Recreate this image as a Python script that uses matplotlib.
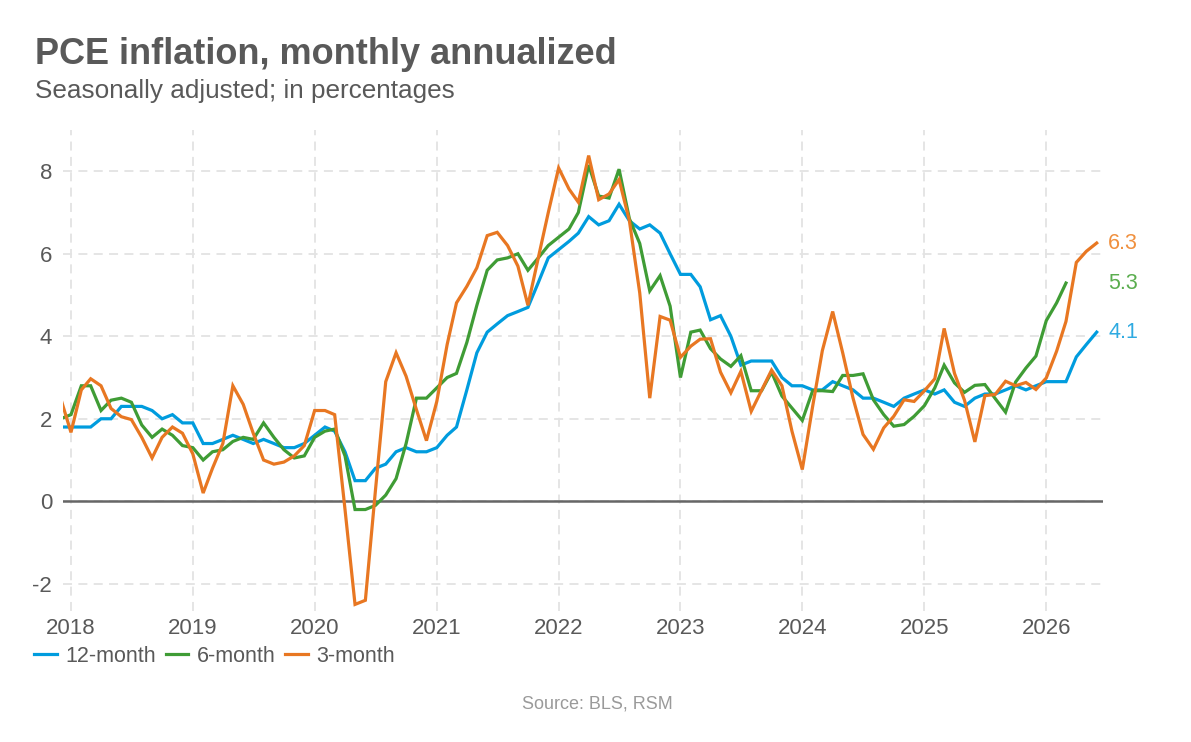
import matplotlib
matplotlib.use("Agg")
import matplotlib.pyplot as plt
import matplotlib.dates as mdates
import matplotlib.transforms as mtransforms
import pandas as pd

plt.rcParams["font.family"] = ["Liberation Sans", "DejaVu Sans"]
plt.rcParams["axes.unicode_minus"] = False

# monthly readings, Dec 2017 onward
START = "2017-12-01"

twelve_month = [
    1.8, 1.8, 1.8, 1.8, 2.0, 2.0, 2.3, 2.3, 2.3, 2.2, 2.0, 2.1, 1.9,
    1.9, 1.4, 1.4, 1.5, 1.6, 1.5, 1.4, 1.5, 1.4, 1.3, 1.3, 1.4,
    1.6, 1.8, 1.7, 1.2, 0.5, 0.5, 0.8, 0.9, 1.2, 1.3, 1.2, 1.2,
    1.3, 1.6, 1.8, 2.7, 3.6, 4.1, 4.3, 4.5, 4.6, 4.7, 5.3, 5.9,
    6.1, 6.3, 6.5, 6.9, 6.7, 6.8, 7.2, 6.8, 6.6, 6.7, 6.5, 6.0,
    5.5, 5.5, 5.2, 4.4, 4.5, 4.0, 3.3, 3.4, 3.4, 3.4, 3.0, 2.8,
    2.8, 2.7, 2.7, 2.9, 2.8, 2.7, 2.5, 2.5, 2.4, 2.3, 2.5, 2.6,
    2.7, 2.6, 2.7, 2.4, 2.3, 2.5, 2.6, 2.6, 2.7, 2.8, 2.7, 2.8,
    2.9, 2.9, 2.9, 3.5, 3.8, 4.1,
]

six_month = [
    2.0, 2.1, 2.8, 2.8, 2.2, 2.45, 2.5, 2.4, 1.85, 1.55, 1.75, 1.6, 1.35,
    1.3, 1.0, 1.2, 1.25, 1.45, 1.55, 1.5, 1.9, 1.55, 1.25, 1.05, 1.1,
    1.55, 1.7, 1.75, 1.1, -0.2, -0.2, -0.1, 0.15, 0.55, 1.4, 2.5, 2.5,
    2.75, 3.0, 3.1, 3.85, 4.75, 5.6, 5.85, 5.9, 6.0, 5.6, 5.9, 6.2,
    6.4, 6.6, 7.0, 8.15, 7.4, 7.35, 8.05, 6.85, 6.25, 5.1, 5.47, 4.73,
    3.0, 4.1, 4.15, 3.7, 3.45, 3.27, 3.53, 2.68, 2.68, 3.13, 2.55, 2.26,
    1.96, 2.68, 2.68, 2.66, 3.05, 3.05, 3.09, 2.46, 2.1, 1.82, 1.86, 2.06,
    2.32, 2.75, 3.3, 2.87, 2.64, 2.81, 2.83, 2.49, 2.16, 2.89, 3.23, 3.52,
    4.38, 4.81, 5.29,
]

three_month = [
    2.5, 1.67, 2.7, 2.97, 2.8, 2.25, 2.05, 1.98, 1.55, 1.05, 1.55, 1.8, 1.65,
    1.15, 0.2, 0.8, 1.4, 2.8, 2.35, 1.65, 1.0, 0.9, 0.95, 1.1, 1.35,
    2.2, 2.2, 2.1, -0.2, -2.5, -2.4, 0.25, 2.9, 3.6, 3.03, 2.22, 1.47,
    2.42, 3.8, 4.81, 5.21, 5.66, 6.44, 6.52, 6.2, 5.7, 4.75, 5.9, 7.0,
    8.08, 7.57, 7.25, 8.38, 7.31, 7.45, 7.8, 6.8, 5.05, 2.5, 4.48, 4.39,
    3.49, 3.76, 3.93, 3.94, 3.13, 2.63, 3.15, 2.18, 2.69, 3.18, 2.8, 1.7,
    0.77, 2.3, 3.65, 4.6, 3.6, 2.5, 1.62, 1.26, 1.78, 2.06, 2.46, 2.42,
    2.68, 2.97, 4.19, 3.1, 2.45, 1.44, 2.56, 2.59, 2.91, 2.8, 2.88, 2.71,
    2.99, 3.64, 4.36, 5.79, 6.06, 6.26,
]

series_names = ["12-month", "6-month", "3-month"]
line_colors = ["#009CDE", "#3F9C35", "#E87722"]
label_colors = ["#2EAAE1", "#5AAD4E", "#F0903E"]

y_ticks = [-2, 0, 2, 4, 6, 8]

GRAY = "#595959"

fig = plt.figure(figsize=(11.91, 7.42), dpi=100)
ax = fig.add_axes([63.3 / 1191, 1 - 610.6 / 742, (1102.7 - 63.3) / 1191, 480.6 / 742])

all_series = [twelve_month, six_month, three_month]
for name, vals, col in zip(series_names, all_series, line_colors):
    dates = pd.date_range(START, periods=len(vals), freq="MS")
    ax.plot(dates, vals, color=col, lw=2.3, label=name, zorder=3,
            solid_joinstyle="miter")

ax.axhline(0, color="#666666", lw=1.8, zorder=2)

ax.set_xlim(pd.Timestamp("2017-12-09"), pd.Timestamp("2026-06-19"))
ax.set_ylim(-2.65, 9.0)
ax.set_yticks(y_ticks)
ax.set_yticklabels([str(t) for t in y_ticks])
ax.xaxis.set_major_locator(mdates.YearLocator())
ax.xaxis.set_major_formatter(mdates.DateFormatter("%Y"))

ax.grid(True, color="#e3e3e3", linestyle=(0, (5, 3.5)), lw=1.3, zorder=0)
ax.set_axisbelow(True)
for s in ax.spines.values():
    s.set_visible(False)
ax.tick_params(axis="both", length=0, labelsize=16, labelcolor=GRAY)
ax.tick_params(axis="y", pad=8)
ax.tick_params(axis="x", pad=5)

# end labels
trans = mtransforms.blended_transform_factory(ax.transAxes, ax.transData)
for vals, col in zip(all_series, label_colors):
    ax.annotate(f"{vals[-1]:.1f}", xy=(1.0, vals[-1]), xycoords=trans,
                xytext=(4, 0), textcoords="offset points",
                color=col, fontsize=15.5, va="center", ha="left")

fig.text(35 / 1191, 1 - 64 / 742, "PCE inflation, monthly annualized",
         fontsize=26, fontweight="bold", color=GRAY, va="baseline")
fig.text(35 / 1191, 1 - 98 / 742, "Seasonally adjusted; in percentages",
         fontsize=18.8, color=GRAY, va="baseline")

fig.legend(loc="center left", bbox_to_anchor=(34 / 1191, 1 - 656 / 742),
           ncol=3, frameon=False, fontsize=15.5, handlelength=1.05,
           handletextpad=0.4, columnspacing=0.45, borderpad=0, borderaxespad=0,
           labelcolor=GRAY)

fig.text(597 / 1191, 1 - 704 / 742, "Source: BLS, RSM", fontsize=13,
         color="#9a9a9a", ha="center", va="center")

fig.savefig("out.png", dpi=100)
